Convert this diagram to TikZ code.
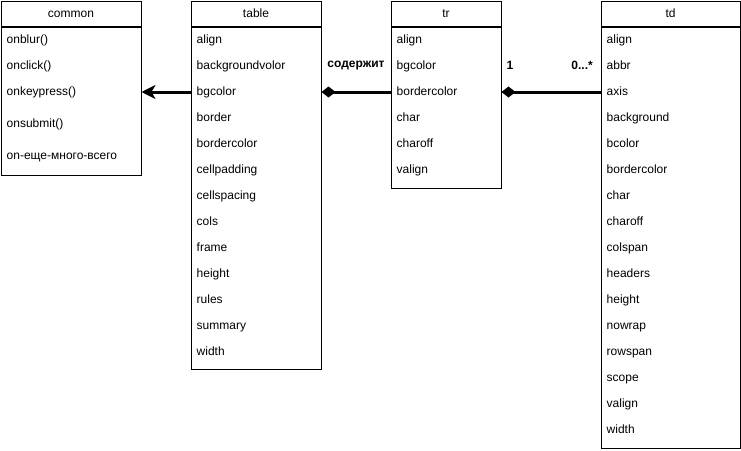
\documentclass[tikz,border=0pt]{standalone}
\usepackage{fontspec}
\setmainfont{Liberation Sans}
\usetikzlibrary{arrows.meta,positioning}

\begin{document}
\begin{tikzpicture}[
		x=1pt, y=-1pt,
		every node/.style={font=\fontsize{12}{14}\selectfont},
		classbox/.style={draw, line width=1pt, anchor=north west, inner sep=0pt, text height=8.5pt, text depth=1.5pt},
		attr/.style={anchor=west, inner sep=0pt, text height=8.5pt, text depth=2.5pt},
		rolelabel/.style={font=\fontsize{12}{14}\selectfont\bfseries, inner sep=0pt, text height=8.5pt, text depth=2.5pt},
		inherit/.style={line width=3pt, -{Stealth[length=14pt, width=14pt, inset=4pt]}},
		compose/.style={line width=3pt, -{Diamond[length=14pt, width=11pt]}}
		]
	
		\useasboundingbox (0,0) rectangle (741,450);
	
		% --- common ---
		\node[classbox, minimum width=140pt, minimum height=25pt] (commonhead) at (0.5,1) {common};
		\node[classbox, minimum width=140pt, minimum height=148pt] (commonbody) at (commonhead.south west) {};
		\foreach \name/\ypos [count=\i] in {onblur()/40, onclick()/66, onkeypress()/92, onsubmit()/124, on-еще-много-всего/156}
			\node[attr] (common\i) at (6.5,\ypos) {\name};
	
		% --- table ---
		\node[classbox, minimum width=130pt, minimum height=25pt] (tablehead) at (190.5,1) {table};
		\node[classbox, minimum width=130pt, minimum height=342pt] (tablebody) at (tablehead.south west) {};
		\foreach \name [count=\i] in {align, backgroundvolor, bgcolor, border, bordercolor, cellpadding, cellspacing, cols, frame, height, rules, summary, width}
			\node[attr] (table\i) at (196.5,14+26*\i) {\name};
	
		% --- tr ---
		\node[classbox, minimum width=110pt, minimum height=25pt] (trhead) at (390.5,1) {tr};
		\node[classbox, minimum width=110pt, minimum height=161pt] (trbody) at (trhead.south west) {};
		\foreach \name [count=\i] in {align, bgcolor, bordercolor, char, charoff, valign}
			\node[attr] (tr\i) at (396.5,14+26*\i) {\name};
	
		% --- td ---
		\node[classbox, minimum width=139pt, minimum height=25pt] (tdhead) at (600.5,1) {td};
		\node[classbox, minimum width=139pt, minimum height=421pt] (tdbody) at (tdhead.south west) {};
		\foreach \name [count=\i] in {align, abbr, axis, background, bcolor, bordercolor, char, charoff, colspan, headers, height, nowrap, rowspan, scope, valign, width}
			\node[attr] (td\i) at (606.5,14+26*\i) {\name};
	
		% --- connectors ---
		\draw[inherit] (tablebody.west |- table3) -- (commonbody.east |- table3);
		\draw[compose] (trbody.west |- tr3) -- node[rolelabel, midway, above=21pt] (contains) {содержит} (tablebody.east |- tr3);
		\draw[compose] (tdbody.west |- td3) -- (trbody.east |- td3);
	
		\node[rolelabel] (multone) at (510,66) {1};
		\node[rolelabel, anchor=east] (multmany) at (593,66) {0...*};
	
	\end{tikzpicture}
\end{document}
